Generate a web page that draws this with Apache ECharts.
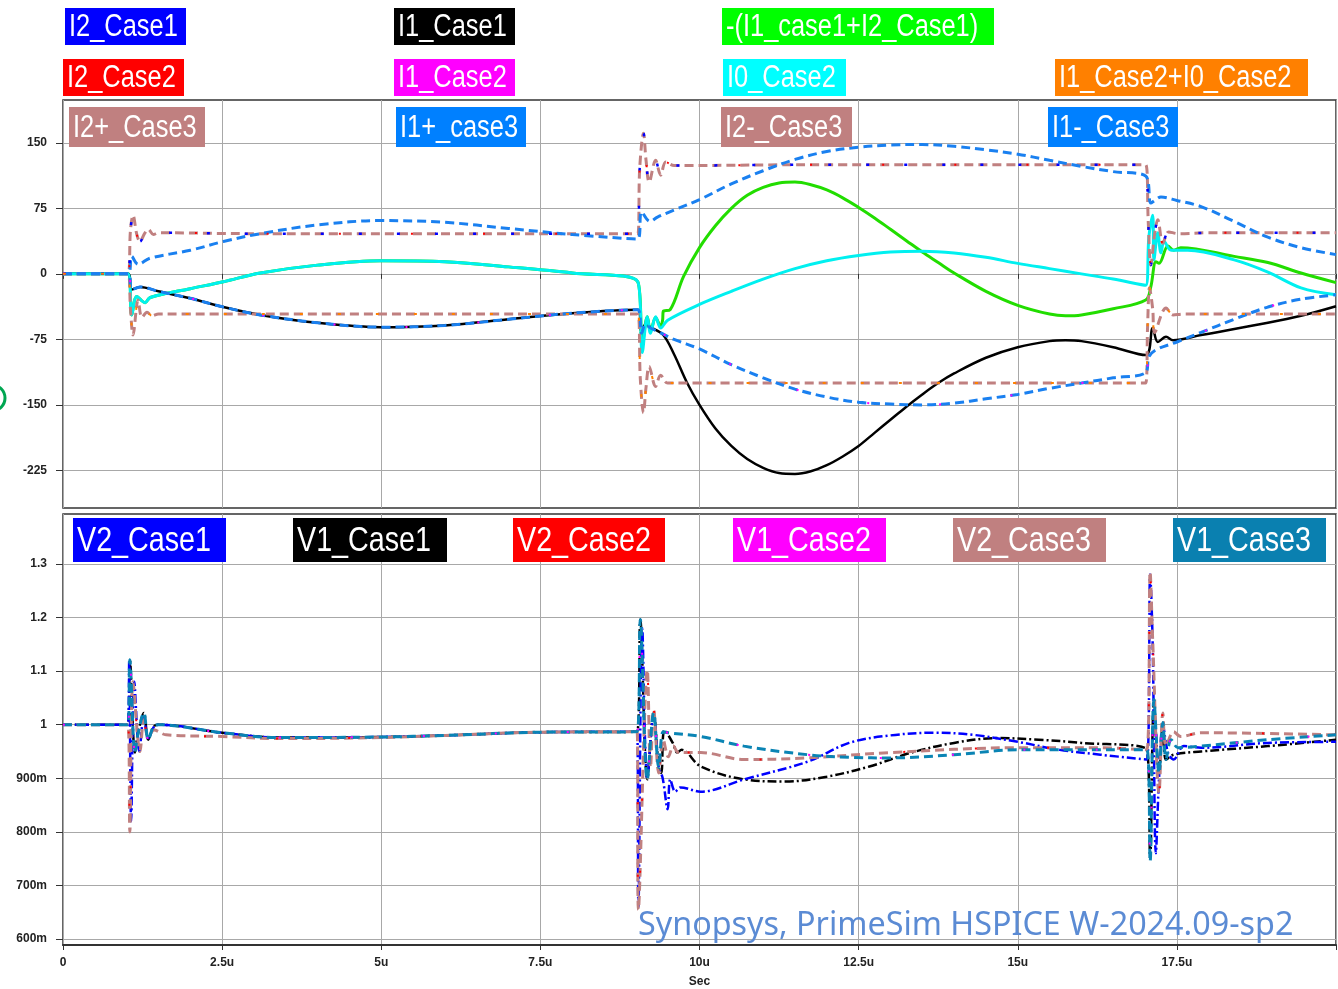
<!DOCTYPE html>
<html>
<head>
<meta charset="utf-8">
<script src="https://cdn.jsdelivr.net/npm/echarts@6.0.0/dist/echarts.min.js"></script>
<style>
  html, body { margin: 0; padding: 0; background: #fff; }
  #main { width: 1338px; height: 989px; }
</style>
</head>
<body>
<div id="main"></div>
<script>
// time in microseconds, currents in the top panel, voltages in the bottom one
const xTicks = [0, 2.5, 5, 7.5, 10, 12.5, 15, 17.5];
const currentTicks = [-225, -150, -75, 0, 75, 150];
const voltageTicks = [0.6, 0.7, 0.8, 0.9, 1, 1.1, 1.2, 1.3];

const i2PosCase3 = [
    [0, 0], [1.02, 0], [1.06, 50], [1.1, 67], [1.16, 45], [1.21, 37], [1.28, 46], [1.34, 51], [1.42, 45], [1.5, 47], [3, 46], [9.03, 46],
    [9.06, 120], [9.12, 161], [9.16, 130], [9.21, 105], [9.31, 130], [9.39, 113], [9.47, 128], [9.6, 124], [12, 125], [17.01, 125],
    [17.05, 60], [17.09, 10], [17.15, 45], [17.2, 62], [17.28, 35], [17.37, 48], [17.52, 46], [18, 47], [20, 47]
];
const i2NegCase3 = [
    [0, 0], [1.02, 0], [1.06, -40], [1.1, -70], [1.18, -30], [1.24, -50], [1.32, -44], [1.4, -48], [1.5, -46], [9.03, -46],
    [9.07, -120], [9.12, -159], [9.16, -130], [9.21, -106], [9.31, -129], [9.39, -116], [9.5, -125], [17.01, -125],
    [17.04, -60], [17.07, -16], [17.12, -40], [17.15, -67], [17.33, -39], [17.44, -47], [17.6, -46], [20, -46]
];
const i1PosCase3 = [
    [0, 0], [1.02, 0], [1.08, 20], [1.18, 11], [1.37, 18], [2, 27], [2.52, 37], [3.1, 46], [4, 56], [5, 61], [6, 59], [7, 52], [8, 45], [9.03, 40],
    [9.09, 71], [9.22, 60], [9.34, 65], [9.6, 73], [10, 85], [10.5, 103], [11, 118], [11.5, 131], [12, 140], [12.5, 145], [13, 147.5], [13.5, 148],
    [14, 146], [14.5, 142], [15, 137], [15.5, 130], [16, 123], [16.5, 117], [17.01, 112],
    [17.09, 81], [17.17, 85], [17.25, 88], [17.5, 84], [17.88, 77], [18.4, 60], [18.93, 42], [19.45, 30], [20, 22]
];
const i1NegCase3 = [
    [0, 0], [1.02, 0], [1.08, -18], [1.21, -15], [1.5, -20], [2, -28], [2.52, -38], [3.1, -47], [4, -56], [5, -61], [6, -59], [7, -52], [8, -45], [9.03, -41],
    [9.09, -68], [9.15, -58], [9.23, -62], [9.35, -66], [9.6, -75], [10, -86], [10.5, -104], [11, -119], [11.5, -132], [12, -141], [12.5, -147],
    [13, -149], [13.5, -150], [14, -148], [14.5, -143], [15, -138], [15.5, -131], [16, -125], [16.5, -119], [17.01, -113],
    [17.06, -95], [17.17, -87], [17.5, -78], [17.88, -67], [18.4, -52], [18.93, -38], [19.45, -29], [20, -24]
];
const i1Case1 = [
    [0, 0], [1.02, 0], [1.08, -18], [1.21, -15], [1.5, -20], [2, -28], [2.52, -38], [3.1, -47], [4, -56], [5, -61], [6, -59], [7, -52], [8, -45], [9.03, -41],
    [9.09, -66], [9.15, -58], [9.23, -61], [9.43, -70], [9.6, -92], [9.8, -124], [10, -150], [10.25, -177], [10.5, -197], [10.75, -212], [11, -222],
    [11.25, -228], [11.5, -229], [11.75, -226], [12, -219], [12.25, -209], [12.5, -197], [12.75, -182], [13, -167], [13.25, -152], [13.5, -138],
    [13.75, -125], [14, -114], [14.5, -96], [15, -84], [15.5, -77], [15.75, -76], [16, -77], [16.5, -84], [17.01, -93],
    [17.12, -62], [17.2, -78], [17.33, -72], [17.44, -76], [17.88, -70], [18.93, -56], [19.45, -48], [20, -37]
];
const i0Case2 = [
    [0, 0], [1.02, 0], [1.08, -47], [1.16, -26], [1.29, -33], [1.37, -27], [2, -17], [2.52, -9], [3.1, 1], [4, 10], [5, 15], [6, 14], [7, 8], [8, 1], [9.03, -9],
    [9.1, -90], [9.18, -49], [9.23, -68], [9.31, -49], [9.39, -62], [9.5, -53], [10, -35], [10.5, -20], [11, -6], [11.5, 6], [12, 15], [12.5, 21],
    [13, 25], [13.5, 26], [14, 24], [14.5, 19], [15, 12], [15.5, 6], [16, 0], [16.5, -6], [17.01, -13],
    [17.06, 42], [17.12, 67], [17.14, 16], [17.2, 47], [17.25, 24], [17.3, 37], [17.41, 27], [17.67, 27], [18.4, 16], [18.93, 2], [19.45, -16], [20, -24]
];
const negSumCase1 = [
    [0, 0], [1.02, 0], [1.08, -47], [1.16, -26], [1.29, -33], [1.37, -27], [2, -17], [2.52, -9], [3.1, 1], [4, 10], [5, 15], [6, 14], [7, 8], [8, 1], [9.03, -9],
    [9.1, -80], [9.18, -49], [9.23, -66], [9.31, -50], [9.39, -60], [9.42, -53], [9.43, -43], [9.54, -41], [9.75, -3], [10, 30], [10.25, 55], [10.5, 75],
    [10.75, 90], [11, 99], [11.25, 104], [11.5, 105], [11.75, 102], [12, 96], [12.25, 87], [12.5, 76], [12.75, 64], [13, 51], [13.25, 38], [13.5, 25],
    [13.75, 13], [14, 1], [14.5, -20], [15, -36], [15.5, -46], [15.75, -48], [16, -47], [16.5, -40], [17.01, -30],
    [17.09, -15], [17.17, 14], [17.22, 12], [17.36, 32], [17.45, 27], [17.56, 30], [18.4, 20], [18.93, 13], [19.45, 1], [20, -10]
];

const v1Case3 = [
    [0, 1], [1.02, 1], [1.05, 1.121], [1.13, 0.948], [1.17, 0.978], [1.27, 1.022], [1.34, 0.972], [1.42, 0.996], [1.49, 1.0], [2.5, 0.985], [3.4, 0.976],
    [5, 0.977], [6, 0.98], [7.5, 0.986], [9.02, 0.987],
    [9.07, 1.196], [9.18, 0.898], [9.28, 1.022], [9.36, 0.92], [9.43, 0.987], [9.51, 0.985], [10.02, 0.978], [10.7, 0.96], [11.7, 0.944], [12.4, 0.939],
    [13, 0.938], [14, 0.944], [15, 0.953], [17.03, 0.953],
    [17.08, 0.745], [17.14, 1.047], [17.22, 0.91], [17.28, 1.004], [17.33, 0.935], [17.41, 0.972], [17.52, 0.957], [17.88, 0.96], [18.93, 0.972], [20, 0.981]
];
const v2Case3 = [
    [0, 1], [1.02, 1], [1.05, 0.8], [1.1, 1.08], [1.21, 0.95], [1.27, 1.009], [1.34, 0.976], [1.43, 0.99], [1.62, 0.981], [2.5, 0.978], [3.4, 0.974],
    [5, 0.976], [6, 0.98], [7.5, 0.986], [9.02, 0.987],
    [9.04, 0.655], [9.18, 1.102], [9.23, 0.92], [9.28, 1.028], [9.36, 0.91], [9.43, 0.972], [9.51, 0.94], [9.59, 0.96], [9.67, 0.948], [10.02, 0.948],
    [10.7, 0.935], [11.7, 0.938], [13, 0.948], [15, 0.957], [16.3, 0.957], [17.03, 0.953],
    [17.08, 1.285], [17.12, 1.158], [17.22, 0.873], [17.28, 1.022], [17.33, 0.96], [17.45, 0.987], [17.56, 0.978], [17.88, 0.985], [20, 0.981]
];
const v2Case1 = [
    [0, 1], [1.02, 1], [1.04, 1.12], [1.07, 0.82], [1.12, 1.08], [1.2, 0.95], [1.27, 1.015], [1.34, 0.975], [1.43, 0.996], [1.5, 1.0], [2.5, 0.985],
    [3.4, 0.976], [5, 0.977], [6, 0.98], [7.5, 0.986], [9.02, 0.987],
    [9.04, 0.66], [9.1, 1.18], [9.18, 0.9], [9.28, 1.02], [9.36, 0.92], [9.42, 0.901], [9.5, 0.842], [9.54, 0.898], [9.62, 0.875], [9.7, 0.883],
    [10.02, 0.875], [10.7, 0.898], [11.7, 0.931], [12.35, 0.966], [13, 0.98], [13.7, 0.985], [14.3, 0.981], [15, 0.968], [15.66, 0.953], [16.3, 0.944], [17.03, 0.935],
    [17.08, 1.28], [17.12, 1.15], [17.17, 0.76], [17.22, 0.9], [17.28, 1.0], [17.36, 0.948], [17.45, 0.935], [17.61, 0.96], [17.88, 0.957], [18.93, 0.966], [20, 0.968]
];
const v1Case1 = [
    [0, 1], [1.02, 1], [1.05, 1.121], [1.13, 0.948], [1.17, 0.978], [1.27, 1.022], [1.34, 0.972], [1.42, 0.996], [1.49, 1.0], [2.5, 0.985], [3.4, 0.976],
    [5, 0.977], [6, 0.98], [7.5, 0.986], [9.02, 0.987],
    [9.07, 1.196], [9.18, 0.898], [9.28, 1.022], [9.36, 0.92], [9.4, 0.91], [9.45, 0.99], [9.58, 0.966], [9.65, 0.948], [9.72, 0.953], [10.02, 0.922],
    [10.7, 0.898], [11.35, 0.894], [12, 0.903], [12.67, 0.922], [13.33, 0.948], [14, 0.966], [14.67, 0.975], [15.33, 0.972], [16, 0.966], [17.03, 0.953],
    [17.08, 0.75], [17.14, 1.04], [17.22, 0.91], [17.28, 1.0], [17.33, 0.935], [17.45, 0.944], [17.88, 0.95], [18.93, 0.96], [20, 0.972]
];

const small = "'Liberation Sans', Arial, sans-serif";
const gridLine = {show: true, lineStyle: {color: '#a8a8a8', width: 1}};

// name, colour, left, top, width, height
const topLabels = [
    ['I2_Case1', '#0000ff', 65, 8, 121, 37],
    ['I1_Case1', '#000000', 394, 8, 121, 37],
    ['-(I1_case1+I2_Case1)', '#00ff00', 722, 8, 272, 37],
    ['I2_Case2', '#ff0000', 63, 59, 121, 37],
    ['I1_Case2', '#ff00ff', 394, 59, 121, 37],
    ['I0_Case2', '#00ffff', 723, 59, 123, 37],
    ['I1_Case2+I0_Case2', '#ff8000', 1055, 59, 253, 37],
    ['I2+_Case3', '#c08080', 69, 107, 136, 40],
    ['I1+_case3', '#0080ff', 396, 107, 130, 40],
    ['I2-_Case3', '#c08080', 721, 107, 131, 40],
    ['I1-_Case3', '#0080ff', 1048, 107, 130, 40]
];
const bottomLabels = [
    ['V2_Case1', '#0000ff', 73, 518, 153, 44],
    ['V1_Case1', '#000000', 293, 518, 154, 44],
    ['V2_Case2', '#ff0000', 513, 518, 152, 44],
    ['V1_Case2', '#ff00ff', 733, 518, 153, 44],
    ['V2_Case3', '#c08080', 953, 518, 153, 44],
    ['V1_Case3', '#0a80b0', 1173, 518, 153, 44]
];

// coloured name boxes, narrow text made by squeezing Liberation Sans
function nameBox(d, size) {
    return {
        type: 'group', x: d[2], y: d[3],
        children: [
            {type: 'rect', z: 50, shape: {x: 0, y: 0, width: d[4], height: d[5]}, style: {fill: d[1]}},
            {
                type: 'text', z: 51, x: 4, y: d[5] / 2 + 1, scaleX: 0.82,
                style: {
                    text: d[0], fill: '#fff', verticalAlign: 'middle',
                    font: size + "px 'Liberation Sans', Arial, sans-serif"
                }
            }
        ]
    };
}

function trace(name, data, color, width, dash, idx) {
    return {
        name: name, type: 'line', xAxisIndex: idx, yAxisIndex: idx, data: data,
        symbol: 'none', showSymbol: false, smooth: 0.35,
        lineStyle: {color: color, width: width, type: dash, cap: 'butt'},
        itemStyle: {color: color}, emphasis: {disabled: true}
    };
}

const dashed = [9, 5];
const dashDot = [9, 3, 2, 3];
const dots = [3, 35];

let myChart = echarts.init(document.getElementById("main"));
let option = {
    backgroundColor: '#fff',
    animation: false,
    grid: [
        {left: 63, top: 100, width: 1273, height: 408, show: true, borderColor: '#333', borderWidth: 1.5},
        {left: 63, top: 514, width: 1273, height: 432, show: true, borderColor: '#333', borderWidth: 1.5}
    ],
    xAxis: [
        {
            gridIndex: 0, type: 'value', min: 0, max: 20, interval: 2.5,
            axisLine: {show: false},
            axisTick: {show: true, length: 5, lineStyle: {color: '#333'}},
            axisLabel: {show: false},
            splitLine: gridLine
        },
        {
            gridIndex: 1, type: 'value', min: 0, max: 20, interval: 2.5,
            axisLine: {show: true, onZero: false, lineStyle: {color: '#333', width: 2}},
            axisTick: {show: true, length: 5, lineStyle: {color: '#333'}},
            axisLabel: {
                customValues: xTicks, fontSize: 12, fontWeight: 'bold', color: '#222', fontFamily: small, margin: 12,
                formatter: function (v) { return v === 0 ? '0' : v + 'u'; }
            },
            splitLine: gridLine,
            name: 'Sec', nameLocation: 'middle', nameGap: 31,
            nameTextStyle: {fontSize: 12, fontWeight: 'bold', color: '#222', fontFamily: small}
        }
    ],
    yAxis: [
        {
            gridIndex: 0, type: 'value', min: -268, max: 199,
            axisLine: {show: false},
            axisTick: {show: true, length: 7, customValues: currentTicks, lineStyle: {color: '#333'}},
            axisLabel: {customValues: currentTicks, fontSize: 12, fontWeight: 'bold', color: '#222', fontFamily: small, margin: 16},
            splitLine: gridLine
        },
        {
            gridIndex: 1, type: 'value', min: 0.589, max: 1.393,
            axisLine: {show: false},
            axisTick: {show: true, length: 7, customValues: voltageTicks, lineStyle: {color: '#333'}},
            axisLabel: {
                customValues: voltageTicks, fontSize: 12, fontWeight: 'bold', color: '#222', fontFamily: small, margin: 16,
                formatter: function (v) {
                    return v > 0.99 ? String(Math.round(v * 10) / 10) : Math.round(v * 1000) + 'm';
                }
            },
            splitLine: gridLine
        }
    ],
    graphic: topLabels.map(function (d) { return nameBox(d, 31); })
        .concat(bottomLabels.map(function (d) { return nameBox(d, 35); }))
        .concat([
            {
                type: 'text', x: 638, y: 910, z: 60,
                style: {text: 'Synopsys, PrimeSim HSPICE W-2024.09-sp2', fill: '#5b8bd4', font: "32.3px 'Noto Sans'"}
            },
            {
                type: 'circle', shape: {cx: -8, cy: 398, r: 13},
                style: {fill: 'none', stroke: '#00a651', lineWidth: 3}
            }
        ]),
    series: [
        trace('-(I1_case1+I2_Case1)', negSumCase1, '#22dd00', 3, 'solid', 0),
        trace('I1_Case1', i1Case1, '#000000', 2.5, 'solid', 0),
        trace('I0_Case2', i0Case2, '#00f0f0', 3, 'solid', 0),
        trace('I2-_Case3', i2NegCase3, '#c08080', 3, dashed, 0),
        trace('I2+_Case3', i2PosCase3, '#c08080', 3, dashed, 0),
        trace('I1+_case3', i1PosCase3, '#1a80f0', 3, dashed, 0),
        trace('I1-_Case3', i1NegCase3, '#1a80f0', 3, dashed, 0),
        trace('I2_Case2', i2PosCase3, '#ff0000', 2, [2, 70], 0),
        trace('I2_Case1', i2PosCase3, '#0000ff', 2.5, dots, 0),
        trace('I1_Case2', i1NegCase3, '#ff00ff', 2, [2, 70], 0),
        trace('I1_Case2+I0_Case2', i2NegCase3, '#ff8000', 2, dots, 0),

        trace('V1_Case1', v1Case1, '#000000', 2.5, dashDot, 1),
        trace('V2_Case1', v2Case1, '#0000ff', 2.5, dashDot, 1),
        trace('V2_Case3', v2Case3, '#c08080', 3, dashed, 1),
        trace('V2_Case2', v2Case3, '#ff0000', 2, [2, 70], 1),
        trace('V1_Case3', v1Case3, '#0a84b4', 3, dashed, 1),
        trace('V1_Case2', v1Case3, '#ff00ff', 2, [2, 70], 1)
    ]
};
myChart.setOption(option);
</script>
</body>
</html>
